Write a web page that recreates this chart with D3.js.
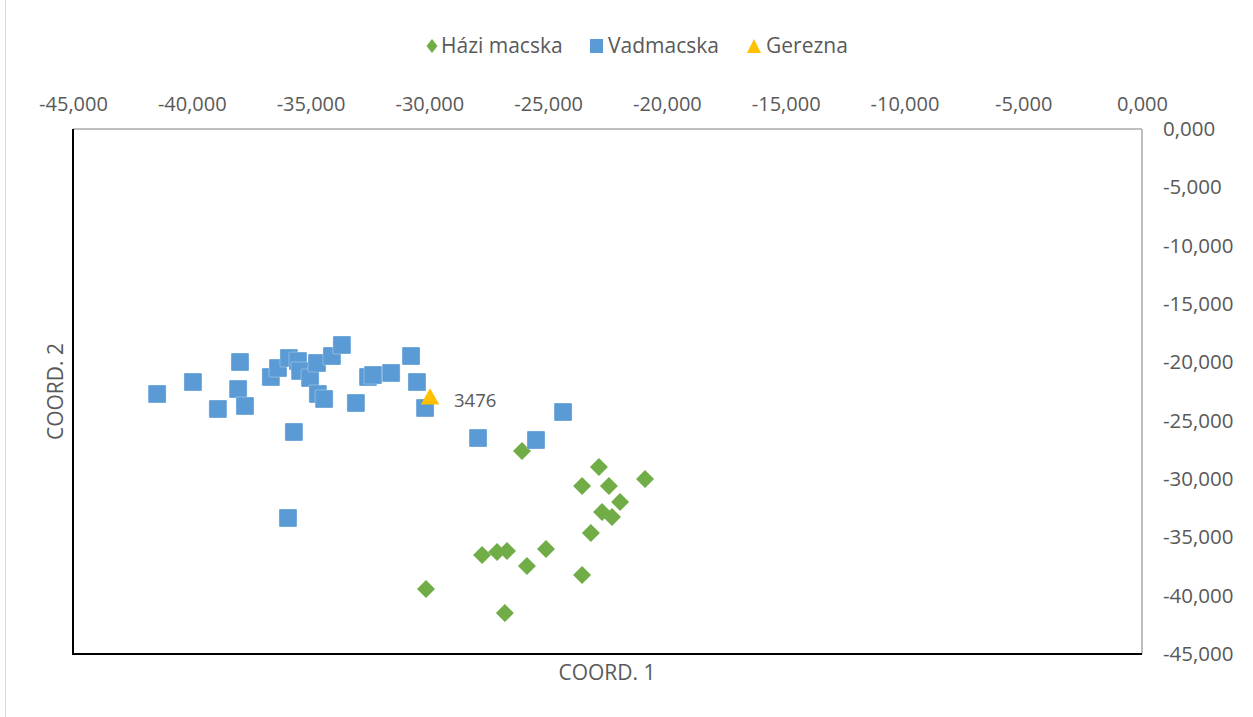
<!DOCTYPE html>
<html>
<head>
<meta charset="utf-8">
<script src="https://cdn.jsdelivr.net/npm/d3@7"></script>
<style>
  body { margin: 0; background: #fff; }
  text { font-family: "Open Sans", "Noto Sans", sans-serif; fill: #595959; }
</style>
</head>
<body>
<div id="chart"></div>
<script>
// Házi macska (domestic cat)
const haziX = [-26.10, -22.86, -23.57, -22.44, -20.92, -21.97, -22.73, -22.31, -23.20, -27.78, -27.15, -26.73, -25.09, -25.89, -23.57, -30.14, -26.82];
const haziY = [-27.60, -28.97, -30.60, -30.60, -30.00, -31.97, -32.83, -33.26, -34.63, -36.51, -36.26, -36.17, -36.00, -37.46, -38.23, -39.43, -41.49];

// Vadmacska (wild cat)
const vadX = [-41.46, -39.95, -38.90, -37.97, -38.05, -37.76, -36.67, -36.37, -35.91, -35.53, -35.44, -35.02, -34.73, -34.69, -34.43, -34.10, -33.68, -35.70, -33.09, -32.58, -32.37, -31.61, -30.77, -30.52, -30.18, -35.95, -27.95, -25.51, -24.37];
const vadY = [-22.71, -21.69, -24.00, -19.97, -22.29, -23.74, -21.26, -20.49, -19.63, -19.89, -20.74, -21.34, -20.06, -22.71, -23.14, -19.46, -18.51, -25.97, -23.49, -21.26, -21.09, -20.91, -19.46, -21.69, -23.91, -33.34, -26.49, -26.66, -24.26];

// Gerezna (hybrid)
const gerX = [-29.97];
const gerY = [-23.23];
const gerLabels = ["3476"];

const seriesNames = ["Házi macska", "Vadmacska", "Gerezna"];
const seriesColors = ["#70AD47", "#5B9BD5", "#FFC000"];

const width = 1253;
const height = 717;
const plot = { left: 73, right: 1142, top: 129, bottom: 654 };

const locale = d3.formatLocale({ decimal: ",", thousands: " ", grouping: [3], currency: ["", ""], minus: "-" });
const fmt = locale.format(".3f");

const svg = d3.select("#chart").append("svg")
  .attr("width", width)
  .attr("height", height);

// chart frame
svg.append("rect")
  .attr("x", 5.5).attr("y", -1)
  .attr("width", width - 5).attr("height", height + 2)
  .attr("fill", "none")
  .attr("stroke", "#d9d9d9");

const x = d3.scaleLinear().domain([-45, 0]).range([plot.left, plot.right]);
const y = d3.scaleLinear().domain([0, -45]).range([plot.top, plot.bottom]);

// top axis (labels only)
const xAxis = svg.append("g")
  .attr("transform", `translate(0,${plot.top})`)
  .call(d3.axisTop(x).tickValues(d3.range(-45, 0.1, 5)).tickSize(0).tickPadding(18).tickFormat(fmt));
xAxis.select(".domain").remove();
xAxis.selectAll("text").style("font-size", "20px").attr("fill", "#595959");

const yAxis = svg.append("g")
  .attr("transform", `translate(${plot.right},0)`)
  .call(d3.axisRight(y).tickValues(d3.range(0, -45.1, -5)).tickSize(0).tickPadding(21).tickFormat(fmt));
yAxis.select(".domain").remove();
yAxis.selectAll("text").style("font-size", "20.5px").attr("fill", "#595959");

// plot border lines
svg.append("line")
  .attr("x1", plot.left).attr("x2", plot.right)
  .attr("y1", plot.top).attr("y2", plot.top)
  .attr("stroke", "#bfbfbf").attr("stroke-width", 2);
svg.append("line")
  .attr("x1", plot.right).attr("x2", plot.right)
  .attr("y1", plot.top).attr("y2", plot.bottom)
  .attr("stroke", "#bfbfbf").attr("stroke-width", 2);
svg.append("line")
  .attr("x1", plot.left).attr("x2", plot.left)
  .attr("y1", plot.top).attr("y2", plot.bottom + 1)
  .attr("stroke", "#000").attr("stroke-width", 2);
svg.append("line")
  .attr("x1", plot.left - 1).attr("x2", plot.right)
  .attr("y1", plot.bottom).attr("y2", plot.bottom)
  .attr("stroke", "#000").attr("stroke-width", 2);

// axis titles
svg.append("text")
  .attr("x", 607)
  .attr("y", 680)
  .attr("text-anchor", "middle")
  .style("font-size", "21px")
  .text("COORD. 1");

svg.append("text")
  .attr("transform", `translate(63,${(plot.top + plot.bottom) / 2}) rotate(-90)`)
  .attr("text-anchor", "middle")
  .style("font-size", "21px")
  .text("COORD. 2");

// marker shapes
const diamond = (s) => `M0,${-s}L${s},0L0,${s}L${-s},0Z`;
const triangle = d3.symbol().type(d3.symbolTriangle).size(150);

// Házi macska
svg.append("g").selectAll("path")
  .data(d3.zip(haziX, haziY))
  .join("path")
  .attr("transform", (d) => `translate(${x(d[0])},${y(d[1])})`)
  .attr("d", diamond(9))
  .attr("fill", seriesColors[0]);

// Vadmacska
svg.append("g").selectAll("rect")
  .data(d3.zip(vadX, vadY))
  .join("rect")
  .attr("x", (d) => x(d[0]) - 9)
  .attr("y", (d) => y(d[1]) - 9)
  .attr("width", 18).attr("height", 18)
  .attr("rx", 1)
  .attr("fill", seriesColors[1])
  .attr("stroke", "#fff").attr("stroke-opacity", 0.5).attr("stroke-width", 0.6);

// Gerezna
const ger = svg.append("g");
ger.selectAll("path")
  .data(d3.zip(gerX, gerY))
  .join("path")
  .attr("transform", (d) => `translate(${x(d[0])},${y(d[1]) - 1})`)
  .attr("d", triangle)
  .attr("fill", seriesColors[2]);
ger.selectAll("text")
  .data(d3.zip(gerX, gerY, gerLabels))
  .join("text")
  .attr("x", (d) => x(d[0]) + 24)
  .attr("y", (d) => y(d[1]) + 7)
  .style("font-size", "18.5px")
  .attr("fill", "#7f7f7f")
  .text((d) => d[2]);

// legend
const legendPos = [426, 590, 747];
const legendTextX = [15, 18, 19];
const legend = svg.append("g").attr("transform", "translate(0,46)");
seriesNames.forEach((name, i) => {
  const g = legend.append("g").attr("transform", `translate(${legendPos[i]},0)`);
  if (i === 0) {
    g.append("path").attr("transform", "translate(6,0)").attr("d", "M0,-7L5.5,0L0,7L-5.5,0Z").attr("fill", seriesColors[i]);
  } else if (i === 1) {
    g.append("rect").attr("x", 0).attr("y", -7).attr("width", 13).attr("height", 14).attr("fill", seriesColors[i]);
  } else {
    g.append("path").attr("d", "M0,7L7,-7L14,7Z").attr("fill", seriesColors[i]);
  }
  g.append("text")
    .attr("x", legendTextX[i])
    .attr("y", 7)
    .style("font-size", "21px")
    .text(name);
});
</script>
</body>
</html>
